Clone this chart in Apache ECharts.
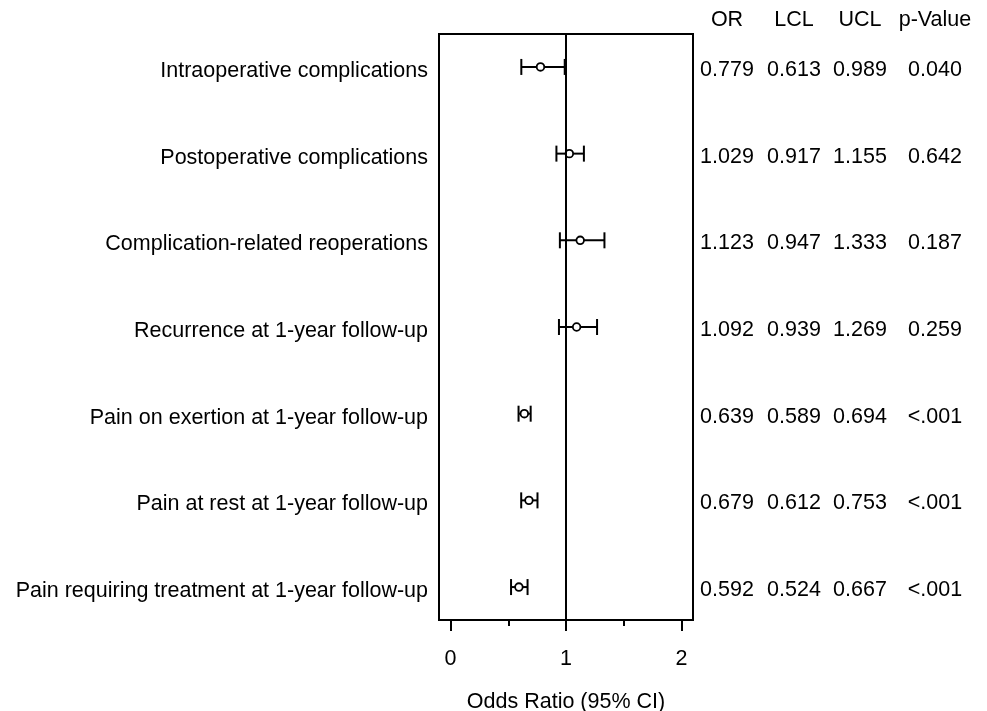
<!DOCTYPE html>
<html>
<head>
<meta charset="utf-8">
<script src="https://cdn.jsdelivr.net/npm/echarts@6/dist/echarts.min.js"></script>
<style>html,body{margin:0;padding:0;background:#fff}#c{width:987px;height:711px}</style>
</head>
<body>
<div id="c"></div>
<script>
// ---- data ----
const categories = [
  'Intraoperative complications',
  'Postoperative complications',
  'Complication-related reoperations',
  'Recurrence at 1-year follow-up',
  'Pain on exertion at 1-year follow-up',
  'Pain at rest at 1-year follow-up',
  'Pain requiring treatment at 1-year follow-up'
];
const orVals  = [0.779, 1.029, 1.123, 1.092, 0.639, 0.679, 0.592];
const lclVals = [0.613, 0.917, 0.947, 0.939, 0.589, 0.612, 0.524];
const uclVals = [0.989, 1.155, 1.333, 1.269, 0.694, 0.753, 0.667];
const pVals   = ['0.040', '0.642', '0.187', '0.259', '<.001', '<.001', '<.001'];
const tableHeaders = ['OR', 'LCL', 'UCL', 'p-Value'];
const xTicks = [0, 1, 2];
const xMinorTicks = [0.5, 1.5];

// ---- layout ----
const FONT = 'Liberation Sans, Arial, Helvetica, sans-serif';
const FS = 21.5;
const colPos = [34, 101, 167, 242]; // px offsets of table column centres inside table grid
const rowIdx = categories.map((_, i) => i + 1);

const errData = categories.map((c, i) => [orVals[i], lclVals[i], uclVals[i], i + 1]);
const tableCols = [
  orVals.map(v => v.toFixed(3)),
  lclVals.map(v => v.toFixed(3)),
  uclVals.map(v => v.toFixed(3)),
  pVals
];
const tableData = [];
tableCols.forEach((col, c) => col.forEach((t, r) => tableData.push([colPos[c], r + 1, t])));

const chart = echarts.init(document.getElementById('c'), null, {renderer: 'canvas'});
const yCommon = {
  type: 'value', inverse: true, min: 0.62, max: 7.38,
  splitLine: {show: false}, axisLine: {show: false}, axisTick: {show: false}
};
chart.setOption({
  animation: false,
  backgroundColor: '#fff',
  textStyle: {fontFamily: FONT, color: '#000'},
  grid: [
    {left: 439, top: 34, width: 254, height: 586, show: true, borderColor: '#000', borderWidth: 2,
     backgroundColor: 'transparent', containLabel: false, outerBoundsMode: 'none'},
    {left: 693, top: 34, width: 294, height: 586, show: false, containLabel: false, outerBoundsMode: 'none'}
  ],
  xAxis: [
    {
      gridIndex: 0, type: 'value', position: 'bottom', min: -0.1, max: 2.1,
      splitLine: {show: false},
      axisLine: {show: true, lineStyle: {color: '#000', width: 2}},
      axisTick: {show: true, customValues: xTicks, length: 11, lineStyle: {color: '#000', width: 2}},
      axisLabel: {show: true, customValues: xTicks, margin: 28, fontSize: FS, color: '#000', fontFamily: FONT},
      name: 'Odds Ratio (95% CI)', nameLocation: 'middle', nameGap: 71, nameMoveOverlap: false,
      nameTextStyle: {fontSize: FS, color: '#000', fontFamily: FONT}
    },
    {
      gridIndex: 0, type: 'value', position: 'bottom', min: -0.1, max: 2.1,
      splitLine: {show: false}, axisLine: {show: false},
      axisTick: {show: true, customValues: xMinorTicks, length: 6, lineStyle: {color: '#000', width: 2}},
      axisLabel: {show: false}
    },
    {
      gridIndex: 1, type: 'value', position: 'top', min: 0, max: 294,
      splitLine: {show: false}, axisLine: {show: false}, axisTick: {show: false},
      axisLabel: {
        show: true, customValues: colPos, margin: 3, fontSize: FS, color: '#000', fontFamily: FONT,
        formatter: v => tableHeaders[colPos.indexOf(v)]
      }
    }
  ],
  yAxis: [
    Object.assign({gridIndex: 0, axisLabel: {
      show: true, customValues: rowIdx, margin: 11, fontSize: FS, color: '#000', fontFamily: FONT,
      verticalAlign: 'top', lineHeight: 8,
      formatter: v => categories[v - 1]
    }}, yCommon),
    Object.assign({gridIndex: 1, axisLabel: {show: false}}, yCommon)
  ],
  series: [
    {
      type: 'custom', xAxisIndex: 0, yAxisIndex: 0, data: errData,
      renderItem: function (params, api) {
        const y = api.value(3);
        const m = api.coord([api.value(0), y]);
        const lo = api.coord([api.value(1), y]);
        const hi = api.coord([api.value(2), y]);
        const st = {stroke: '#000', lineWidth: 2, fill: null};
        const cap = 8;
        return {
          type: 'group',
          children: [
            {type: 'line', shape: {x1: lo[0], y1: lo[1], x2: hi[0], y2: hi[1]}, style: st},
            {type: 'line', shape: {x1: lo[0], y1: lo[1] - cap, x2: lo[0], y2: lo[1] + cap}, style: st},
            {type: 'line', shape: {x1: hi[0], y1: hi[1] - cap, x2: hi[0], y2: hi[1] + cap}, style: st},
            {type: 'circle', shape: {cx: m[0], cy: m[1], r: 3.8}, style: {stroke: '#000', lineWidth: 1.8, fill: '#fff'}}
          ]
        };
      },
      markLine: {
        silent: true, symbol: 'none', label: {show: false},
        lineStyle: {color: '#000', width: 2, type: 'solid'},
        data: [{xAxis: 1}]
      },
      z: 3
    },
    {
      type: 'custom', xAxisIndex: 2, yAxisIndex: 1, data: tableData,
      renderItem: function (params, api) {
        const p = api.coord([api.value(0), api.value(1)]);
        return {
          type: 'text', x: p[0], y: p[1] + 3,
          style: {text: tableData[params.dataIndex][2], fontSize: FS, fontFamily: FONT, fill: '#000', align: 'center', verticalAlign: 'middle'}
        };
      }
    }
  ]
});
</script>
</body>
</html>
